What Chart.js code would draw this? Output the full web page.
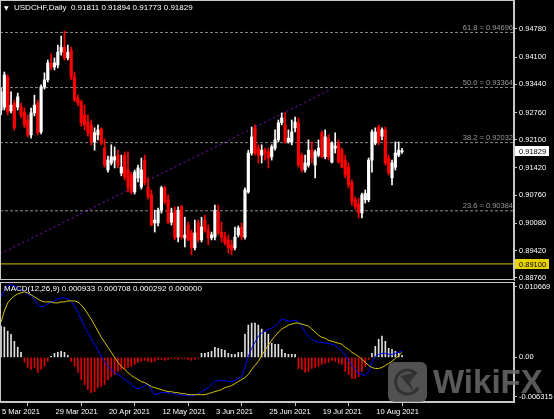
<!DOCTYPE html>
<html>
<head>
<meta charset="utf-8">
<script src="https://cdn.jsdelivr.net/npm/chart.js@4.4.0/dist/chart.umd.min.js"></script>
<style>
  html, body { margin: 0; padding: 0; background: #000; width: 554px; height: 419px; overflow: hidden; }
  #price { position: absolute; left: 0; top: 0; }
  #macd { position: absolute; left: 0; top: 270px; }
</style>
</head>
<body>
<canvas id="price" width="554" height="281"></canvas>
<canvas id="macd" width="554" height="149"></canvas>
<script>
// USDCHF daily candles, 5 Mar 2021 .. 20 Aug 2021 (one entry per bar)
const opens = [
  0.9282, 0.9289, 0.9362, 0.9280, 0.9299, 0.9289, 0.9289, 0.9277, 0.9258, 0.9222,
  0.9275, 0.9299, 0.9229, 0.9338, 0.9355, 0.9396, 0.9386, 0.9391, 0.9422, 0.9434,
  0.9408, 0.9427, 0.9362, 0.9311, 0.9302, 0.9270, 0.9253, 0.9246, 0.9205, 0.9222,
  0.9236, 0.9190, 0.9137, 0.9154, 0.9161, 0.9173, 0.9130, 0.9173, 0.9137, 0.9125,
  0.9084, 0.9118, 0.9096, 0.9161, 0.9096, 0.9077, 0.9009, 0.9009, 0.9040, 0.9094,
  0.9065, 0.9011, 0.9036, 0.8975, 0.9048, 0.8973, 0.9004, 0.8985, 0.8949, 0.9009,
  0.8968, 0.9016, 0.8992, 0.8973, 0.8975, 0.9036, 0.8987, 0.8975, 0.8968, 0.8956,
  0.8949, 0.8980, 0.8999, 0.8975, 0.9084, 0.9178, 0.9239, 0.9190, 0.9173, 0.9185,
  0.9181, 0.9169, 0.9190, 0.9210, 0.9251, 0.9246, 0.9205, 0.9205, 0.9239, 0.9251,
  0.9173, 0.9137, 0.9149, 0.9185, 0.9149, 0.9173, 0.9227, 0.9169, 0.9214, 0.9156,
  0.9190, 0.9202, 0.9185, 0.9161, 0.9144, 0.9106, 0.9065, 0.9055, 0.9033, 0.9065,
  0.9065, 0.9161, 0.9202, 0.9241, 0.9219, 0.9234, 0.9166, 0.9118, 0.9144, 0.9173,
  0.91811
];
const highs = [
  0.9335, 0.9374, 0.9367, 0.9326, 0.9306, 0.9323, 0.9299, 0.9287, 0.9270, 0.9287,
  0.9318, 0.9306, 0.9343, 0.9372, 0.9403, 0.9418, 0.9408, 0.9439, 0.9461, 0.9473,
  0.9439, 0.9434, 0.9374, 0.9318, 0.9306, 0.9294, 0.9270, 0.9258, 0.9239, 0.9246,
  0.9239, 0.9212, 0.9171, 0.9198, 0.9193, 0.9185, 0.9173, 0.9181, 0.9181, 0.9132,
  0.9137, 0.9149, 0.9166, 0.9173, 0.9118, 0.9089, 0.9040, 0.9045, 0.9098, 0.9098,
  0.9077, 0.9045, 0.9048, 0.9048, 0.9052, 0.9023, 0.9011, 0.8992, 0.9016, 0.9016,
  0.9023, 0.9028, 0.9004, 0.8987, 0.9052, 0.9052, 0.9011, 0.8987, 0.8980, 0.8968,
  0.8999, 0.9002, 0.9009, 0.9094, 0.9185, 0.9241, 0.9246, 0.9198, 0.9198, 0.9190,
  0.9190, 0.9198, 0.9234, 0.9258, 0.9275, 0.9275, 0.9234, 0.9258, 0.9265, 0.9263,
  0.9178, 0.9173, 0.9210, 0.9205, 0.9185, 0.9210, 0.9231, 0.9234, 0.9222, 0.9205,
  0.9227, 0.9210, 0.9190, 0.9173, 0.9154, 0.9113, 0.9072, 0.9069, 0.9081, 0.9089,
  0.9166, 0.9234, 0.9239, 0.9246, 0.9239, 0.9241, 0.9173, 0.9161, 0.9205, 0.9205,
  0.91894
];
const lows = [
  0.9270, 0.9282, 0.9270, 0.9275, 0.9234, 0.9282, 0.9263, 0.9239, 0.9217, 0.9214,
  0.9268, 0.9222, 0.9224, 0.9333, 0.9350, 0.9379, 0.9379, 0.9384, 0.9415, 0.9403,
  0.9403, 0.9355, 0.9302, 0.9292, 0.9243, 0.9234, 0.9219, 0.9198, 0.9185, 0.9210,
  0.9198, 0.9144, 0.9132, 0.9149, 0.9142, 0.9142, 0.9123, 0.9113, 0.9084, 0.9079,
  0.9079, 0.9108, 0.9091, 0.9101, 0.9067, 0.9002, 0.8987, 0.9002, 0.9033, 0.9055,
  0.9007, 0.9004, 0.8968, 0.8963, 0.8970, 0.8951, 0.8966, 0.8932, 0.8944, 0.8963,
  0.8963, 0.8987, 0.8956, 0.8968, 0.8968, 0.8980, 0.8963, 0.8956, 0.8936, 0.8932,
  0.8944, 0.8975, 0.8968, 0.8970, 0.9081, 0.9173, 0.9173, 0.9154, 0.9154, 0.9161,
  0.9142, 0.9161, 0.9185, 0.9205, 0.9246, 0.9202, 0.9202, 0.9198, 0.9229, 0.9144,
  0.9132, 0.9132, 0.9144, 0.9154, 0.9118, 0.9169, 0.9166, 0.9164, 0.9161, 0.9154,
  0.9178, 0.9154, 0.9142, 0.9118, 0.9094, 0.9052, 0.9043, 0.9021, 0.9021, 0.9057,
  0.9060, 0.9132, 0.9198, 0.9198, 0.9210, 0.9149, 0.9125, 0.9101, 0.9137, 0.9169,
  0.91773
];
const closes = [
  0.9326, 0.9367, 0.9277, 0.9294, 0.9239, 0.9314, 0.9270, 0.9246, 0.9222, 0.9275,
  0.9294, 0.9227, 0.9338, 0.9355, 0.9396, 0.9386, 0.9396, 0.9422, 0.9434, 0.9408,
  0.9422, 0.9362, 0.9306, 0.9299, 0.9251, 0.9246, 0.9227, 0.9205, 0.9227, 0.9234,
  0.9202, 0.9149, 0.9161, 0.9169, 0.9169, 0.9149, 0.9144, 0.9120, 0.9096, 0.9084,
  0.9132, 0.9142, 0.9137, 0.9106, 0.9072, 0.9004, 0.9016, 0.9040, 0.9094, 0.9060,
  0.9011, 0.9033, 0.8973, 0.9040, 0.8975, 0.8980, 0.8968, 0.8949, 0.8985, 0.8968,
  0.8999, 0.8992, 0.8973, 0.8980, 0.9040, 0.8985, 0.8975, 0.8961, 0.8949, 0.8944,
  0.8975, 0.8997, 0.8975, 0.9089, 0.9178, 0.9217, 0.9178, 0.9173, 0.9185, 0.9178,
  0.9166, 0.9193, 0.9210, 0.9251, 0.9263, 0.9205, 0.9214, 0.9229, 0.9253, 0.9149,
  0.9137, 0.9154, 0.9185, 0.9166, 0.9181, 0.9190, 0.9169, 0.9217, 0.9169, 0.9202,
  0.9195, 0.9156, 0.9144, 0.9125, 0.9101, 0.9060, 0.9048, 0.9033, 0.9077, 0.9081,
  0.9161, 0.9229, 0.9229, 0.9205, 0.9234, 0.9154, 0.9130, 0.9154, 0.9178, 0.9185,
  0.91829
];

// MACD(12,26,9) panel
const macdMain = [
  0.00856, 0.00942, 0.01013, 0.01027, 0.01013, 0.00985, 0.00956, 0.00928, 0.00899, 0.00870,
  0.00828, 0.00742, 0.00714, 0.00728, 0.00756, 0.00785, 0.00799, 0.00828, 0.00842, 0.00842,
  0.00828, 0.00785, 0.00728, 0.00642, 0.00542, 0.00442, 0.00357, 0.00271, 0.00186, 0.00100,
  0.00014, -0.00057, -0.00128, -0.00171, -0.00214, -0.00243, -0.00271, -0.00314, -0.00342, -0.00385,
  -0.00428, -0.00442, -0.00428, -0.00400, -0.00385, -0.00457, -0.00528, -0.00514, -0.00499, -0.00499,
  -0.00499, -0.00514, -0.00514, -0.00528, -0.00528, -0.00542, -0.00542, -0.00542, -0.00542, -0.00514,
  -0.00485, -0.00457, -0.00428, -0.00385, -0.00342, -0.00328, -0.00328, -0.00328, -0.00342, -0.00342,
  -0.00328, -0.00300, -0.00271, -0.00143, 0.00014, 0.00128, 0.00214, 0.00300, 0.00342, 0.00371,
  0.00400, 0.00414, 0.00442, 0.00485, 0.00542, 0.00528, 0.00514, 0.00514, 0.00528, 0.00499,
  0.00442, 0.00357, 0.00300, 0.00257, 0.00228, 0.00214, 0.00214, 0.00200, 0.00200, 0.00186,
  0.00171, 0.00128, 0.00086, 0.00029, -0.00043, -0.00114, -0.00171, -0.00228, -0.00243, -0.00257,
  -0.00200, -0.00071, 0.00014, 0.00043, 0.00057, 0.00057, 0.00043, 0.00043, 0.00057, 0.00071,
  0.000933
];
const macdSignal = [
  0.00499, 0.00656, 0.00771, 0.00828, 0.00870, 0.00899, 0.00913, 0.00928, 0.00913, 0.00885,
  0.00856, 0.00828, 0.00799, 0.00785, 0.00785, 0.00785, 0.00771, 0.00771, 0.00785, 0.00785,
  0.00799, 0.00799, 0.00799, 0.00785, 0.00742, 0.00685, 0.00614, 0.00542, 0.00457, 0.00371,
  0.00285, 0.00214, 0.00143, 0.00071, 0.00000, -0.00071, -0.00128, -0.00171, -0.00214, -0.00257,
  -0.00285, -0.00314, -0.00342, -0.00357, -0.00385, -0.00414, -0.00428, -0.00442, -0.00457, -0.00471,
  -0.00485, -0.00485, -0.00499, -0.00499, -0.00514, -0.00514, -0.00528, -0.00528, -0.00528, -0.00528,
  -0.00528, -0.00528, -0.00514, -0.00499, -0.00485, -0.00471, -0.00457, -0.00428, -0.00414, -0.00400,
  -0.00371, -0.00342, -0.00314, -0.00285, -0.00243, -0.00171, -0.00114, -0.00057, 0.00029, 0.00100,
  0.00171, 0.00243, 0.00300, 0.00357, 0.00400, 0.00428, 0.00457, 0.00471, 0.00485, 0.00485,
  0.00471, 0.00457, 0.00442, 0.00400, 0.00357, 0.00314, 0.00285, 0.00271, 0.00243, 0.00228,
  0.00214, 0.00200, 0.00186, 0.00143, 0.00114, 0.00071, 0.00043, 0.00014, -0.00029, -0.00071,
  -0.00114, -0.00143, -0.00157, -0.00157, -0.00143, -0.00114, -0.00086, -0.00057, -0.00014, 0.00029,
  0.000708
];
const macdHist = [
  0.00442, 0.00428, 0.00371, 0.00328, 0.00228, 0.00143, 0.00071, -0.00071, -0.00143, -0.00171,
  -0.00143, -0.00214, -0.00171, -0.00128, -0.00057, 0.00014, 0.00057, 0.00071, 0.00086, 0.00071,
  0.00029, -0.00057, -0.00128, -0.00214, -0.00314, -0.00385, -0.00457, -0.00499, -0.00485, -0.00428,
  -0.00414, -0.00385, -0.00314, -0.00271, -0.00243, -0.00200, -0.00171, -0.00171, -0.00143, -0.00128,
  -0.00100, -0.00071, -0.00057, -0.00043, -0.00057, -0.00071, -0.00057, -0.00029, -0.00029, -0.00043,
  -0.00029, -0.00014, -0.00014, -0.00029, -0.00014, -0.00014, -0.00029, -0.00043, -0.00029, -0.00014,
  0.00057, 0.00057, 0.00071, 0.00086, 0.00143, 0.00128, 0.00114, 0.00100, 0.00057, 0.00043,
  0.00043, 0.00071, 0.00071, 0.00328, 0.00457, 0.00485, 0.00485, 0.00457, 0.00400, 0.00357,
  0.00328, 0.00200, 0.00186, 0.00186, 0.00114, 0.00057, 0.00043, 0.00043, 0.00043, -0.00157,
  -0.00171, -0.00214, -0.00200, -0.00157, -0.00143, -0.00128, -0.00100, -0.00086, -0.00071, -0.00043,
  -0.00057, -0.00086, -0.00100, -0.00200, -0.00243, -0.00300, -0.00300, -0.00271, -0.00200, -0.00128,
  -0.00029, 0.00057, 0.00157, 0.00257, 0.00300, 0.00228, 0.00128, 0.00114, 0.00086, 0.00057,
  0.000292
];

// axis labels
const priceTicks = [0.94780, 0.94100, 0.93440, 0.92760, 0.92100, 0.91420, 0.90760, 0.90080, 0.89420, 0.88760];
const dateLabels = ['5 Mar 2021', '29 Mar 2021', '20 Apr 2021', '12 May 2021', '3 Jun 2021', '25 Jun 2021', '19 Jul 2021', '10 Aug 2021'];
const dateBars = [0, 16, 32, 48, 64, 80, 96, 112];
const macdTickValues = [0.00999, 0.0, -0.00557];
const macdTickLabels = ['0.010669', '0.00', '-0.006315'];

// drawn objects
const fibNames = ['61.8', '50.0', '38.2', '23.6'];
const fibLevels = [0.94696, 0.93364, 0.92032, 0.90384];
const supportLevel = 0.89100;
const trendBars = [-0.3, 98.5];
const trendPrices = [0.8934, 0.9331];

const FONT = { family: 'Liberation Sans', size: 7.5 };
const FONT_CSS = '7.5px "Liberation Sans"';
const FRAME = '#c8c8c8';
const xMin = -0.3, xMax = 153.5;
const n = closes.length;
const last = n - 1;

const candleColours = closes.map((c, i) => c >= opens[i] ? '#ffffff' : '#ff0000');

function hline(level, colour, dash) {
    return {
        type: 'line',
        data: [{ x: xMin, y: level }, { x: xMax, y: level }],
        borderColor: colour,
        borderWidth: 1,
        borderDash: dash,
        pointRadius: 0,
        order: 5
    };
}

// axis widths fixed so the plot areas line up like the terminal
function fixWidth(s) { s.width = 40; s.paddingTop = 0; s.paddingBottom = 0; }

// ---------- price panel ----------
const priceOverlay = {
    id: 'priceOverlay',
    afterDraw(chart) {
        const ctx = chart.ctx;
        const a = chart.chartArea;
        const y = chart.scales.y;
        ctx.save();
        ctx.strokeStyle = FRAME;
        ctx.lineWidth = 1;
        ctx.strokeRect(a.left + 0.5, a.top + 0.5, a.width - 1, a.height - 1);

        // fibo labels
        ctx.font = FONT_CSS;
        ctx.fillStyle = '#9a9a9a';
        ctx.textAlign = 'right';
        ctx.textBaseline = 'bottom';
        for (var i = 0; i < fibLevels.length; i++) {
            const py = y.getPixelForValue(fibLevels[i]);
            ctx.fillText(fibNames[i] + ' = ' + fibLevels[i].toFixed(5), a.right - 1, py - 1);
        }

        // header
        ctx.fillStyle = '#ffffff';
        ctx.textAlign = 'left';
        ctx.textBaseline = 'middle';
        ctx.font = '6px "DejaVu Sans"';
        ctx.fillText('\u25BC', 4, 8);
        ctx.font = '8px "Liberation Sans"';
        ctx.fillText('USDCHF,Daily  ' + opens[last].toFixed(5) + ' ' + highs[last].toFixed(5) + ' ' +
            lows[last].toFixed(5) + ' ' + closes[last].toFixed(5), 14, 8);

        // price boxes on the axis
        ctx.font = FONT_CSS;
        const boxes = [[closes[last], '#ffffff'], [supportLevel, '#e6d200']];
        boxes.forEach(function (b) {
            const py = Math.round(y.getPixelForValue(b[0]));
            ctx.fillStyle = b[1];
            ctx.fillRect(a.right + 1, py - 5, 34, 10);
            ctx.fillStyle = '#000000';
            ctx.fillText(b[0].toFixed(5), a.right + 5, py + 0.5);
        });
        ctx.restore();
    }
};

new Chart(document.getElementById('price'), {
    type: 'bar',
    data: {
        datasets: [
            {
                type: 'bar',
                data: lows.map((l, i) => ({ x: i, y: [l, highs[i]] })),
                backgroundColor: candleColours,
                barThickness: 1,
                grouped: false,
                order: 2
            },
            {
                type: 'bar',
                data: opens.map((o, i) => ({ x: i, y: [o, closes[i]] })),
                backgroundColor: candleColours,
                barThickness: 2.5,
                minBarLength: 1,
                grouped: false,
                order: 1
            },
            hline(fibLevels[0], '#8a8a8a', [3, 2]),
            hline(fibLevels[1], '#8a8a8a', [3, 2]),
            hline(fibLevels[2], '#8a8a8a', [3, 2]),
            hline(fibLevels[3], '#8a8a8a', [3, 2]),
            hline(supportLevel, '#d8c400', []),
            {
                type: 'line',
                data: trendBars.map((b, i) => ({ x: b, y: trendPrices[i] })),
                borderColor: '#7a10d0',
                borderWidth: 1,
                borderDash: [2, 3],
                pointRadius: 0,
                order: 6
            }
        ]
    },
    options: {
        responsive: false,
        animation: false,
        devicePixelRatio: 1,
        layout: { padding: { bottom: 1 } },
        plugins: { legend: { display: false }, tooltip: { enabled: false } },
        scales: {
            x: { type: 'linear', min: xMin, max: xMax, offset: false, display: false },
            y: {
                position: 'right',
                min: 0.88711,
                max: 0.95481,
                afterFit: fixWidth,
                afterBuildTicks: function (s) { s.ticks = priceTicks.map(v => ({ value: v })); },
                ticks: {
                    color: '#ffffff',
                    font: FONT,
                    padding: 2,
                    callback: v => v.toFixed(5)
                },
                grid: { drawOnChartArea: false, tickLength: 3, color: FRAME },
                border: { display: true, color: FRAME }
            }
        }
    },
    plugins: [priceOverlay]
});

// ---------- MACD panel ----------
const macdOverlay = {
    id: 'macdOverlay',
    afterDraw(chart) {
        const ctx = chart.ctx;
        const a = chart.chartArea;
        ctx.save();
        ctx.strokeStyle = FRAME;
        ctx.lineWidth = 1;
        ctx.strokeRect(a.left + 0.5, a.top + 0.5, a.width - 1, a.height - 1);

        ctx.font = '8px "Liberation Sans"';
        ctx.fillStyle = '#ffffff';
        ctx.textBaseline = 'middle';
        ctx.fillText('MACD(12,26,9) ' + macdMain[last].toFixed(6) + ' ' + macdSignal[last].toFixed(6) + ' ' +
            macdHist[last].toFixed(6) + ' 0.000000', 4, a.top + 7);

        // watermark
        ctx.globalAlpha = 0.85;
        ctx.fillStyle = '#5f5f5f';
        const lx = 388, ly = a.bottom - 40;
        ctx.beginPath();
        ctx.roundRect(lx, ly, 39, 40, 6);
        ctx.fill();
        ctx.strokeStyle = '#2e2e2e';
        ctx.lineWidth = 3;
        ctx.beginPath();
        ctx.arc(lx + 19.5, ly + 20, 12, Math.PI * 0.15, Math.PI * 1.75);
        ctx.stroke();
        ctx.fillStyle = '#2e2e2e';
        ctx.beginPath();
        ctx.moveTo(lx + 12, ly + 14);
        ctx.lineTo(lx + 30, ly + 10);
        ctx.lineTo(lx + 22, ly + 20);
        ctx.lineTo(lx + 26, ly + 30);
        ctx.closePath();
        ctx.fill();
        ctx.fillStyle = '#6a6a6a';
        ctx.font = 'bold 33px "Liberation Sans"';
        ctx.textBaseline = 'alphabetic';
        ctx.fillText('WikiFX', 433, a.bottom - 9);
        ctx.restore();
    }
};

new Chart(document.getElementById('macd'), {
    type: 'bar',
    data: {
        datasets: [
            {
                type: 'line',
                data: macdMain.map((v, i) => ({ x: i, y: v })),
                borderColor: '#0000ff',
                borderWidth: 1,
                pointRadius: 0,
                tension: 0,
                order: 1
            },
            {
                type: 'line',
                data: macdSignal.map((v, i) => ({ x: i, y: v })),
                borderColor: '#d6c600',
                borderWidth: 1,
                pointRadius: 0,
                tension: 0,
                order: 0
            },
            {
                type: 'bar',
                data: macdHist.map((v, i) => ({ x: i, y: v })),
                backgroundColor: macdHist.map(v => v >= 0 ? '#e0e0e0' : '#e00000'),
                barThickness: 1,
                order: 3
            }
        ]
    },
    options: {
        responsive: false,
        animation: false,
        devicePixelRatio: 1,
        layout: { padding: { top: 12 } },
        plugins: { legend: { display: false }, tooltip: { enabled: false } },
        scales: {
            x: {
                type: 'linear',
                min: xMin,
                max: xMax,
                offset: false,
                afterFit: function (s) { s.height = 17; s.paddingLeft = 0; s.paddingRight = 0; },
                afterBuildTicks: function (s) { s.ticks = dateBars.map(v => ({ value: v })); },
                ticks: {
                    color: '#ffffff',
                    font: FONT,
                    align: 'start',
                    labelOffset: 1,
                    padding: 1,
                    maxRotation: 0,
                    autoSkip: false,
                    callback: (v, idx) => dateLabels[idx]
                },
                grid: { drawOnChartArea: false, tickLength: 4, color: FRAME },
                border: { display: true, color: FRAME }
            },
            y: {
                position: 'right',
                min: -0.006315,
                max: 0.010669,
                afterFit: fixWidth,
                afterBuildTicks: function (s) { s.ticks = macdTickValues.map(v => ({ value: v })); },
                ticks: {
                    color: '#ffffff',
                    font: FONT,
                    padding: 2,
                    callback: (v, idx) => macdTickLabels[idx]
                },
                grid: { drawOnChartArea: false, tickLength: 3, color: FRAME },
                border: { display: true, color: FRAME }
            }
        }
    },
    plugins: [macdOverlay]
});
</script>
</body>
</html>
